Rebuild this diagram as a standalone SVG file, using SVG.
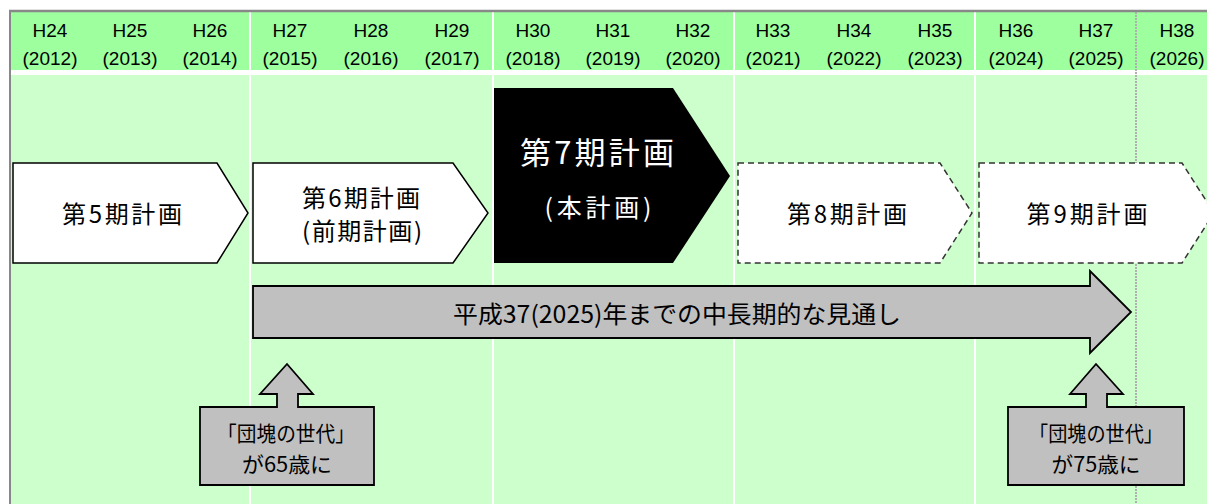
<svg xmlns="http://www.w3.org/2000/svg" width="1207" height="504" viewBox="0 0 1207 504">
<style>
.hdr{fill:#9eff9e}
.body{fill:#ccffcc}
.yr{font-family:"Liberation Sans",Arial,sans-serif;font-size:19px;fill:#000;text-anchor:middle}
.jp{font-family:"Noto Sans CJK JP","Liberation Sans",sans-serif;text-anchor:middle}
.plan{fill:#fff;stroke:#000;stroke-width:1.5}
.dash{fill:#fff;stroke:#333;stroke-width:1.5;stroke-dasharray:6 4}
.gray{fill:#c0c0c0;stroke:#000;stroke-width:1.8;stroke-linejoin:miter}
</style>
<rect x="0" y="0" width="1207" height="504" fill="#fff"/>
<g id="grid">
<rect class="hdr" x="11" y="12" width="238" height="58"/>
<rect class="hdr" x="251" y="12" width="241" height="58"/>
<rect class="hdr" x="494" y="12" width="239" height="58"/>
<rect class="hdr" x="735" y="12" width="239" height="58"/>
<rect class="hdr" x="976" y="12" width="231" height="58"/>
<rect class="body" x="11" y="75" width="238" height="429"/>
<rect class="body" x="251" y="75" width="241" height="429"/>
<rect class="body" x="494" y="75" width="239" height="429"/>
<rect class="body" x="735" y="75" width="239" height="429"/>
<rect class="body" x="976" y="75" width="231" height="429"/>
<line x1="1136" y1="12" x2="1136" y2="504" stroke="#b0b0b0" stroke-width="2" stroke-dasharray="2 1"/>
<line x1="9" y1="11" x2="1207" y2="11" stroke="#888" stroke-width="2.4"/>
<line x1="10" y1="10" x2="10" y2="504" stroke="#888" stroke-width="2"/>
</g>
<g id="years">
<text class="yr" x="50" y="37">H24</text><text class="yr" x="50" y="65">(2012)</text>
<text class="yr" x="130" y="37">H25</text><text class="yr" x="130" y="65">(2013)</text>
<text class="yr" x="210" y="37">H26</text><text class="yr" x="210" y="65">(2014)</text>
<text class="yr" x="290" y="37">H27</text><text class="yr" x="290" y="65">(2015)</text>
<text class="yr" x="371" y="37">H28</text><text class="yr" x="371" y="65">(2016)</text>
<text class="yr" x="452" y="37">H29</text><text class="yr" x="452" y="65">(2017)</text>
<text class="yr" x="533" y="37">H30</text><text class="yr" x="533" y="65">(2018)</text>
<text class="yr" x="613" y="37">H31</text><text class="yr" x="613" y="65">(2019)</text>
<text class="yr" x="693" y="37">H32</text><text class="yr" x="693" y="65">(2020)</text>
<text class="yr" x="773" y="37">H33</text><text class="yr" x="773" y="65">(2021)</text>
<text class="yr" x="854" y="37">H34</text><text class="yr" x="854" y="65">(2022)</text>
<text class="yr" x="935" y="37">H35</text><text class="yr" x="935" y="65">(2023)</text>
<text class="yr" x="1016" y="37">H36</text><text class="yr" x="1016" y="65">(2024)</text>
<text class="yr" x="1096" y="37">H37</text><text class="yr" x="1096" y="65">(2025)</text>
<text class="yr" x="1177" y="37">H38</text><text class="yr" x="1177" y="65">(2026)</text>
</g>
<g id="plan5">
<polygon class="plan" points="13,163 217,163 248,213 217,263 13,263"/>
<text class="jp" x="122" y="223" font-size="24" textLength="120" lengthAdjust="spacing">第5期計画</text>
</g>
<g id="plan6">
<polygon class="plan" points="253,163 453,163 488,213 453,263 253,263"/>
<text class="jp" x="361" y="207" font-size="24" textLength="118" lengthAdjust="spacing">第6期計画</text>
<text class="jp" x="362" y="240" font-size="24" textLength="120" lengthAdjust="spacing">(前期計画)</text>
</g>
<g id="plan7">
<polygon points="494,88 673,88 730,176 673,263 494,263" fill="#000"/>
<text class="jp" x="597" y="164" font-size="31" fill="#fff" textLength="154" lengthAdjust="spacing">第7期計画</text>
<text class="jp" x="598" y="217" font-size="25" fill="#fff" textLength="107" lengthAdjust="spacing">(本計画)</text>
</g>
<g id="plan8">
<polygon class="dash" points="738,163 940,163 972,213 940,263 738,263"/>
<text class="jp" x="847" y="223" font-size="24" textLength="120" lengthAdjust="spacing">第8期計画</text>
</g>
<g id="plan9">
<polygon class="dash" points="979,163 1182,163 1214,213 1182,263 979,263"/>
<text class="jp" x="1087" y="223" font-size="24" textLength="121" lengthAdjust="spacing">第9期計画</text>
</g>
<g id="outlook">
<polygon class="gray" points="253,286 1090,286 1090,271 1131,312 1090,353 1090,338 253,338"/>
<text class="jp" x="677" y="323" font-size="24" textLength="448" lengthAdjust="spacingAndGlyphs">平成37(2025)年までの中長期的な見通し</text>
</g>
<g id="callout65">
<polygon class="gray" points="287,364 313,394 298,394 298,407 374,407 374,485 200,485 200,407 277,407 277,394 260,394"/>
<text class="jp" x="286" y="441" font-size="21" textLength="138" lengthAdjust="spacingAndGlyphs">「団塊の世代」</text>
<text class="jp" x="287" y="472" font-size="21" textLength="90" lengthAdjust="spacingAndGlyphs">が65歳に</text>
</g>
<g id="callout75">
<polygon class="gray" points="1096,364 1123,394 1107,394 1107,407 1184,407 1184,485 1008,485 1008,407 1086,407 1086,394 1070,394"/>
<text class="jp" x="1096" y="441" font-size="21" textLength="134" lengthAdjust="spacingAndGlyphs">「団塊の世代」</text>
<text class="jp" x="1096" y="472" font-size="21" textLength="89" lengthAdjust="spacingAndGlyphs">が75歳に</text>
</g>
<g id="connectors"/>
</svg>
